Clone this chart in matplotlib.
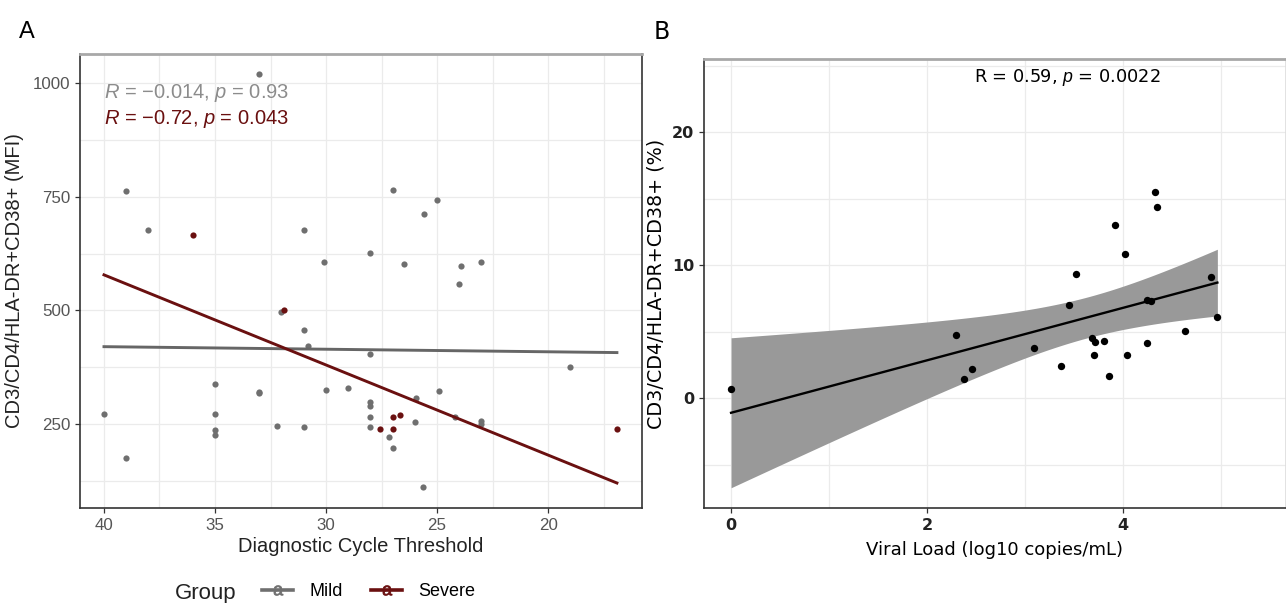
import matplotlib
matplotlib.use("Agg")
import matplotlib.pyplot as plot
from matplotlib.lines import Line2D
import numpy as np

PNG_W_INCH = 12.86
PNG_H_INCH = 6.03

# Panel A: diagnostic cycle threshold vs MFI
mild_ct = [40, 39, 39, 38, 35, 35, 35, 35, 33, 33, 33, 32.2, 32.05, 31, 31,
           30.8, 31, 30.1, 30, 29, 28, 28, 28, 28, 28, 28, 27.15, 27, 27,
           26.5, 26, 25.95, 25.6, 25.65, 25, 24.9, 24.2, 24, 23.9, 23, 23, 23, 19]
mild_mfi = [272, 762, 176, 677, 337, 272, 237, 226, 1019, 317, 321, 246, 496, 677, 457,
            421, 243, 606, 325, 330, 627, 404, 299, 290, 266, 243, 222, 196, 765,
            603, 254, 306, 713, 111, 742, 323, 266, 558, 598, 606, 256, 250, 376]
severe_ct = [36, 31.9, 27.55, 27, 26.65, 27, 16.9]
severe_mfi = [665, 501, 239, 266, 270, 239, 238]

# regression lines (fit over full Ct range)
fit_ct = [40, 16.9]
mild_fit = [420, 407]
severe_fit = [578, 120]

mild_label = r"$\mathit{R}$ = −0.014, $\mathit{p}$ = 0.93"
severe_label = r"$\mathit{R}$ = −0.72, $\mathit{p}$ = 0.043"

# Panel B: viral load vs % CD38+
viral_load = [0, 2.29, 2.38, 2.46, 3.09, 3.37, 3.45, 3.52, 3.68, 3.71, 3.70, 3.80,
              3.85, 3.92, 4.02, 4.04, 4.24, 4.24, 4.28, 4.32, 4.34, 4.63, 4.89, 4.96]
cd38_pct = [0.68, 4.76, 1.43, 2.2, 3.73, 2.41, 6.97, 9.32, 4.54, 4.19, 3.26, 4.31,
            1.68, 13.03, 10.8, 3.21, 4.16, 7.37, 7.29, 15.49, 14.38, 5.04, 9.07, 6.09]
cor_label = r"R = 0.59, $\mathit{p}$ = 0.0022"

MILD_COL = "#6f6f6f"
SEVERE_COL = "#6a1010"
GRID_COL = "#ebebeb"

plot.rcParams["mathtext.fontset"] = "custom"
plot.rcParams["mathtext.it"] = "Liberation Sans:italic"
plot.rcParams["mathtext.rm"] = "Liberation Sans"


def style_box(ax, top_col="#a8a8a8", side_col="#333333"):
    ax.spines["left"].set_color(side_col)
    ax.spines["bottom"].set_color(side_col)
    ax.spines["right"].set_color(side_col)
    ax.spines["top"].set_color(top_col)
    for s in ax.spines.values():
        s.set_linewidth(1.2)
    ax.spines["top"].set_linewidth(2.0)
    ax.grid(which="both", color=GRID_COL, lw=0.9)
    ax.set_axisbelow(True)
    ax.tick_params(which="minor", length=0)
    ax.tick_params(which="major", length=3.5, width=0.9, color="#333333")


def plot_panel_a(ax):
    ax.scatter(mild_ct, mild_mfi, s=20, color=MILD_COL, zorder=3, linewidths=0)
    ax.scatter(severe_ct, severe_mfi, s=20, color=SEVERE_COL, zorder=3, linewidths=0)
    ax.plot(fit_ct, mild_fit, color="#666666", lw=2.1, zorder=4)
    ax.plot(fit_ct, severe_fit, color=SEVERE_COL, lw=2.1, zorder=4)
    ax.set_xlim(41.08, 15.77)
    ax.set_ylim(65, 1064)
    ax.set_xticks([40, 35, 30, 25, 20])
    ax.set_xticks([37.5, 32.5, 27.5, 22.5, 17.5], minor=True)
    ax.set_yticks([250, 500, 750, 1000])
    ax.set_yticks([125, 375, 625, 875], minor=True)
    style_box(ax)
    for lab in ax.get_xticklabels() + ax.get_yticklabels():
        lab.set_family("Liberation Sans")
        lab.set_fontsize(12.2)
        lab.set_color("#555555")
    ax.set_xlabel("Diagnostic Cycle Threshold", family="Liberation Sans",
                  fontsize=14.5, color="#222222", labelpad=3)
    ax.set_ylabel("CD3/CD4/HLA-DR+CD38+ (MFI)", family="Liberation Sans",
                  fontsize=14.5, color="#222222", labelpad=6)
    ax.text(40, 978, mild_label, color="#8c8c8c", fontsize=14.5,
            family="Liberation Sans", va="center", ha="left")
    ax.text(40, 920, severe_label, color=SEVERE_COL, fontsize=14.5,
            family="Liberation Sans", va="center", ha="left")


def plot_panel_b(ax):
    x = np.array(viral_load)
    y = np.array(cd38_pct)
    n = len(x)
    slope, icept = np.polyfit(x, y, 1)
    resid = y - (slope * x + icept)
    s_err = np.sqrt(np.sum(resid ** 2) / (n - 2))
    t_val = 2.074  # t(0.975, df=22)
    xs = np.linspace(x.min(), x.max(), 100)
    ys = slope * xs + icept
    half = t_val * s_err * np.sqrt(1.0 / n + (xs - x.mean()) ** 2 / np.sum((x - x.mean()) ** 2))
    ax.fill_between(xs, ys - half, ys + half, color="#999999", lw=0, zorder=2)
    ax.plot(xs, ys, color="black", lw=1.7, zorder=3)
    ax.scatter(x, y, s=28, color="black", zorder=4, linewidths=0)
    ax.set_xlim(-0.276, 5.66)
    ax.set_ylim(-8.27, 25.49)
    ax.set_xticks([0, 2, 4])
    ax.set_xticks([1, 3, 5], minor=True)
    ax.set_yticks([0, 10, 20])
    ax.set_yticks([-5, 5, 15, 25], minor=True)
    style_box(ax, side_col="#333333")
    ax.spines["right"].set_color("#dddddd")
    for lab in ax.get_xticklabels() + ax.get_yticklabels():
        lab.set_fontsize(11.5)
        lab.set_fontweight("bold")
        lab.set_color("#222222")
    ax.set_xlabel("Viral Load (log10 copies/mL)", fontsize=13, labelpad=6)
    ax.set_ylabel("CD3/CD4/HLA-DR+CD38+ (%)", fontsize=13.8, labelpad=5)
    ax.text(3.43, 24.1, cor_label, fontsize=12.8, va="center", ha="center",
            family="DejaVu Sans")


fig = plot.figure(figsize=(PNG_W_INCH, PNG_H_INCH), dpi=100)
ax1 = fig.add_axes([80 / 1286, 95 / 603, 562 / 1286, 454 / 603])
ax2 = fig.add_axes([704 / 1286, 95 / 603, 582 / 1286, 449 / 603])
plot_panel_a(ax1)
plot_panel_b(ax2)

fig.text(19 / 1286, 1 - 32 / 603, "A", fontsize=17, family="Liberation Sans",
         va="center", ha="left")
fig.text(654 / 1286, 1 - 32 / 603, "B", fontsize=17, va="center", ha="left")

# legend for panel A
fig.text(175 / 1286, 1 - 593 / 603, "Group", fontsize=16, family="Liberation Sans",
         va="center", ha="left", color="#222222")
handles = [
    Line2D([0], [0], color=MILD_COL, lw=2.6, marker=r"$\mathrm{a}$", markersize=7,
           markeredgewidth=0.6),
    Line2D([0], [0], color=SEVERE_COL, lw=2.6, marker=r"$\mathrm{a}$", markersize=7,
           markeredgewidth=0.6),
]
leg = fig.legend(handles, ["Mild", "Severe"], ncol=2, frameon=False,
                 loc="center left", bbox_to_anchor=(246 / 1286, 1 - 592 / 603),
                 prop={"family": "Liberation Sans", "size": 13},
                 handlelength=1.7, columnspacing=1.6, handletextpad=0.9)

fig.savefig("out.png", dpi=100)
